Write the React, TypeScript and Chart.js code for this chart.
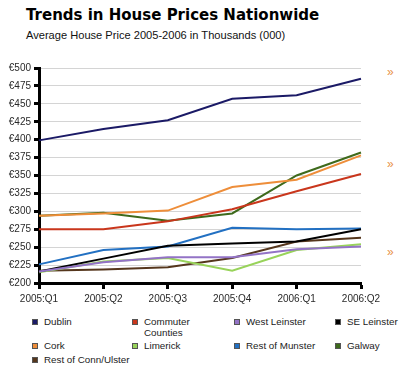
import React, { useEffect, useRef } from "react";
import { Chart, registerables } from "chart.js";

Chart.register(...registerables);

const quarters = ["2005:Q1", "2005:Q2", "2005:Q3", "2005:Q4", "2006:Q1", "2006:Q2"];

const dublin = [399, 415, 427, 457, 462, 485];
const commuterCounties = [275, 275, 286, 303, 328, 352];
const westLeinster = [216, 229, 236, 236, 247, 251];
const seLeinster = [216, 234, 252, 255, 258, 275];
const cork = [294, 297, 301, 334, 344, 378];
const limerick = [215, 230, 235, 217, 246, 254];
const restOfMunster = [226, 246, 251, 277, 275, 276];
const galway = [294, 298, 287, 297, 350, 382];
const restOfConnUlster = [217, 219, 222, 235, 258, 263];

const seriesNames = [
  "Dublin",
  "Commuter Counties",
  "West Leinster",
  "SE Leinster",
  "Cork",
  "Limerick",
  "Rest of Munster",
  "Galway",
  "Rest of Conn/Ulster",
];
const seriesValues = [
  dublin,
  commuterCounties,
  westLeinster,
  seLeinster,
  cork,
  limerick,
  restOfMunster,
  galway,
  restOfConnUlster,
];
const seriesColors = [
  "#1b1a66",
  "#c9361c",
  "#9373c6",
  "#000000",
  "#ee8e3a",
  "#98d35a",
  "#2270c2",
  "#3e6a1c",
  "#55361c",
];

const yMin = 200;
const yMax = 500;
const yStep = 25;

const FONT = "'Liberation Sans', Arial, sans-serif";

export default function App() {
  const canvasRef = useRef<HTMLCanvasElement | null>(null);

  useEffect(() => {
    const canvas = canvasRef.current;
    if (!canvas) return;
    const chart = new Chart(canvas, {
      type: "line",
      data: {
        labels: quarters,
        datasets: seriesNames.map((name, i) => ({
          label: name,
          data: seriesValues[i],
          borderColor: seriesColors[i],
          backgroundColor: seriesColors[i],
          borderWidth: 2,
          pointRadius: 0,
          tension: 0,
          fill: false,
        })),
      },
      options: {
        animation: false,
        responsive: false,
        maintainAspectRatio: false,
        layout: { padding: { top: 18, right: 39, left: 0, bottom: 0 } },
        plugins: {
          legend: { display: false },
          tooltip: { enabled: false },
          title: { display: false },
        },
        scales: {
          x: {
            offset: false,
            afterFit: (s: any) => {
              s.height = 27;
            },
            grid: {
              drawOnChartArea: false,
              drawTicks: true,
              tickLength: 6,
              tickColor: "#000",
              tickWidth: 3,
            },
            border: { display: true, color: "#000", width: 3 },
            ticks: {
              color: "#2a2a2a",
              font: { family: FONT, size: 10 },
              padding: 4,
              maxRotation: 0,
              autoSkip: false,
            },
          },
          y: {
            min: yMin,
            max: yMax,
            afterFit: (s: any) => {
              s.width = 39;
            },
            grid: {
              color: "#d4d4d4",
              lineWidth: 1,
              drawTicks: true,
              tickLength: 5,
              tickColor: "#000",
              tickWidth: 3,
            },
            border: { display: true, color: "#000", width: 3 },
            ticks: {
              stepSize: yStep,
              color: "#2a2a2a",
              font: { family: FONT, size: 10 },
              padding: 3,
              callback: (v: any) => "€" + v,
            },
          },
        },
      },
    });
    return () => chart.destroy();
  }, []);

  const colX = [32, 132, 234, 335];
  const rows = [
    [0, 1, 2, 3],
    [4, 5, 6, 7],
    [8],
  ];
  const rowTops = [315.5, 340, 354];

  return (
    <div
      style={{
        position: "absolute",
        left: 0,
        top: 0,
        width: 400,
        height: 373,
        background: "#fff",
        overflow: "hidden",
        fontFamily: FONT,
      }}
    >
      <div
        style={{
          position: "absolute",
          left: 26,
          top: 6,
          fontFamily: "'DejaVu Sans', sans-serif",
          fontWeight: "bold",
          fontSize: 15,
          color: "#000",
          whiteSpace: "nowrap",
        }}
      >
        Trends in House Prices Nationwide
      </div>
      <div
        style={{
          position: "absolute",
          left: 26,
          top: 29,
          fontSize: 11.1,
          color: "#111",
          whiteSpace: "nowrap",
        }}
      >
        Average House Price 2005-2006 in Thousands (000)
      </div>
      <div
        style={{
          position: "absolute",
          left: 0,
          top: 50,
          width: 381,
          height: 260,
          overflow: "hidden",
        }}
      >
        <canvas ref={canvasRef} width={400} height={260} style={{ display: "block", width: 400, height: 260 }} />
      </div>
      {[66, 158, 246].map((t, i) => (
        <div
          key={"m" + i}
          style={{ position: "absolute", left: 387, top: t, fontSize: 12, color: "#e8924a", lineHeight: "12px" }}
        >
          »
        </div>
      ))}
      {rows.map((row, r) =>
        row.map((si, c) => (
          <div
            key={"l" + si}
            style={{
              position: "absolute",
              left: colX[c],
              top: rowTops[r],
              display: "flex",
              alignItems: "flex-start",
            }}
          >
            <span
              style={{
                display: "inline-block",
                width: 4,
                height: 4,
                marginTop: 3,
                background: seriesColors[si],
                border: "1px solid #555",
              }}
            />
            <span
              style={{
                marginLeft: 6,
                fontSize: 9.8,
                lineHeight: "11px",
                color: "#222",
                width: si === 1 ? 62 : 100,
                whiteSpace: si === 1 ? "normal" : "nowrap",
              }}
            >
              {seriesNames[si]}
            </span>
          </div>
        ))
      )}
    </div>
  );
}
